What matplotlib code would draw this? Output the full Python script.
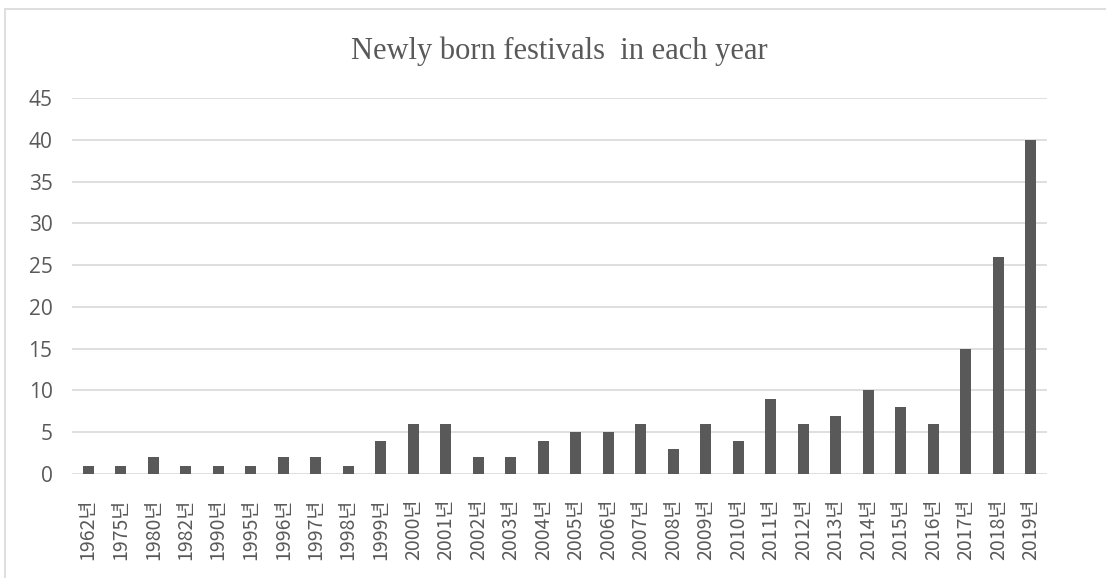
import matplotlib.pyplot as plt
from matplotlib.patches import Rectangle

years = ["1962", "1975", "1980", "1982", "1990", "1995", "1996", "1997", "1998",
         "1999", "2000", "2001", "2002", "2003", "2004", "2005", "2006", "2007",
         "2008", "2009", "2010", "2011", "2012", "2013", "2014", "2015", "2016",
         "2017", "2018", "2019"]
counts = [1, 1, 2, 1, 1, 1, 2, 2, 1,
          4, 6, 6, 2, 2, 4, 5, 5, 6,
          3, 6, 4, 9, 6, 7, 10, 8, 6,
          15, 26, 40]
labels = [y + "년" for y in years]

W, H = 1106, 578
fig = plt.figure(figsize=(W / 100, H / 100), dpi=100)

# outer chart border (bottom and right edges fall outside the image)
fig.patches.append(Rectangle((5 / W, -0.2), 1.2, 1.2 - 9 / H, transform=fig.transFigure,
                             fill=False, edgecolor="#d9d9d9", linewidth=1.2))

ax = fig.add_axes([72 / W, 1 - 474 / H, (1047 - 72) / W, (474 - 98) / H])
x = range(len(years))
ax.bar(x, counts, width=0.34, color="#595959", zorder=3)

ax.set_xlim(-0.5, len(years) - 0.5)
ax.set_ylim(0, 45)
ax.set_yticks(range(0, 46, 5))
ax.yaxis.grid(True, color="#d9d9d9", linewidth=1.2, zorder=0)
for s in ax.spines.values():
    s.set_visible(False)
ax.tick_params(axis="both", length=0, colors="#595959")
ax.tick_params(axis="y", labelsize=15, pad=14)
ax.set_xticks(list(x))
ax.set_xticklabels(labels, rotation=90, fontsize=14,
                   family=["Noto Sans CJK KR", "DejaVu Sans"])
ax.tick_params(axis="x", pad=18)
for t in ax.get_yticklabels():
    t.set_family(["Open Sans", "DejaVu Sans"])

fig.text((72 + 1047) / 2 / W, 1 - 51 / H, "Newly born festivals  in each year",
         ha="center", va="center", fontsize=22, family="Liberation Serif",
         color="#595959")

plt.savefig("out.png", dpi=100)
